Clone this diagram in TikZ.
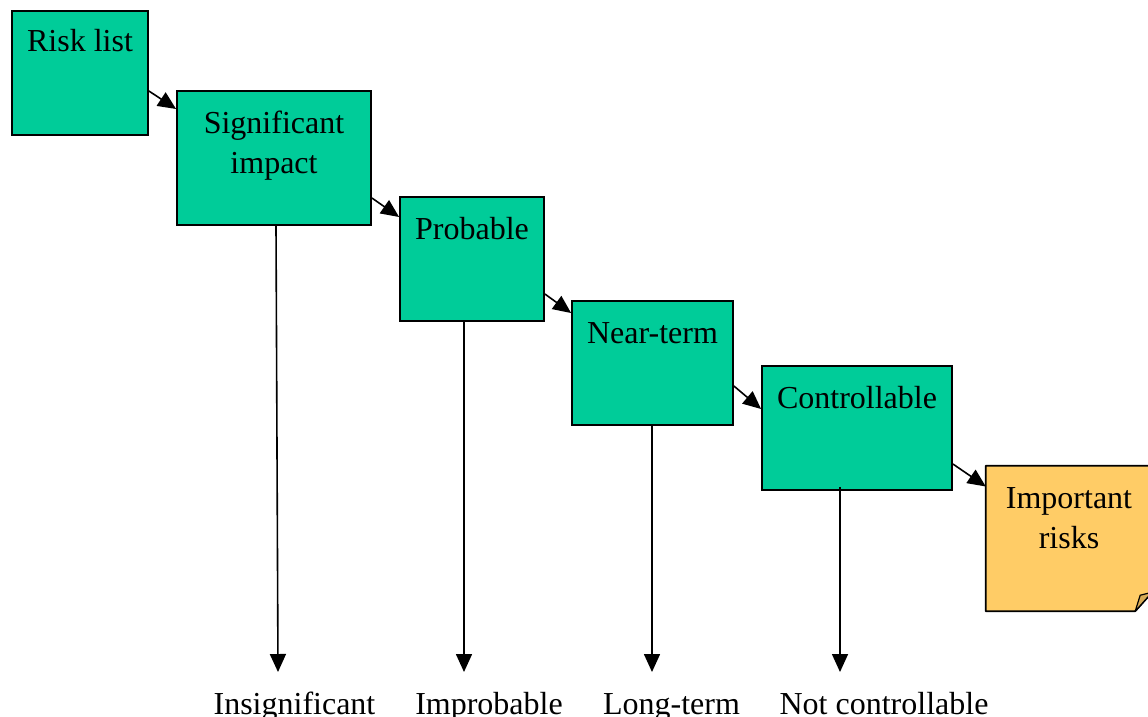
\documentclass[tikz,border=0pt]{standalone}
\usepackage{fontspec}
\setmainfont{Liberation Serif}
\usetikzlibrary{arrows.meta}
\definecolor{boxgreen}{RGB}{0,204,153}
\definecolor{noteorange}{RGB}{255,204,102}
\definecolor{foldorange}{RGB}{214,170,85}
\begin{document}
\begin{tikzpicture}[x=1pt,y=-1pt,
  font=\fontsize{32}{40}\selectfont,
  stagebox/.style={draw=black, line width=1.8pt, fill=boxgreen, inner sep=0pt},
  txt/.style={anchor=base, inner sep=0pt, align=center},
  flow/.style={line width=1.6pt, -{Triangle[length=18pt,width=16pt]}},
  drop/.style={line width=1.6pt, -{Triangle[length=18pt,width=16pt]}}]
\useasboundingbox (0,0) rectangle (1148,717);

% stage boxes
\node[stagebox, minimum width=136pt, minimum height=124pt] (risk) at (80,73) {};
\node[txt] (risktext) at (80,52) {Risk list};

\node[stagebox, minimum width=194pt, minimum height=134pt] (sig) at (274,158) {};
\node[txt] (sigtext) at (274,173) {Significant\\impact};

\node[stagebox, minimum width=144pt, minimum height=124pt] (prob) at (472,259) {};
\node[txt] (probtext) at (472,239) {Probable};

\node[stagebox, minimum width=161pt, minimum height=124pt] (near) at (652.5,363) {};
\node[txt] (neartext) at (652.5,343) {Near-term};

\node[stagebox, minimum width=190pt, minimum height=124pt] (ctrl) at (857,428) {};
\node[txt] (ctrltext) at (857,408) {Controllable};

% note with folded corner
\node[minimum width=166pt, minimum height=145pt, inner sep=0pt] (imp) at (1069,538.5) {};
\filldraw[fill=noteorange, draw=black, line width=1.8pt, line join=round]
  (imp.north west) -- (imp.north east) -- ([yshift=19pt]imp.south east)
  -- ([xshift=-17pt]imp.south east) -- (imp.south west) -- cycle;
\filldraw[fill=foldorange, draw=black, line width=1.2pt, line join=round]
  ([xshift=-17pt]imp.south east) -- ([xshift=-12pt,yshift=16pt]imp.south east)
  -- ([yshift=19pt]imp.south east) -- cycle;
\node[txt] (imptext) at (1069,548) {Important\\risks};

% flow arrows
\draw[flow] ([yshift=-18pt]risk.east) -- ([yshift=49pt]sig.west);
\draw[flow] ([yshift=-40pt]sig.east) -- ([yshift=42pt]prob.west);
\draw[flow] ([yshift=-35pt]prob.east) -- ([yshift=50pt]near.west);
\draw[flow] ([yshift=-23pt]near.east) -- ([yshift=19pt]ctrl.west);
\draw[flow] ([yshift=-36pt]ctrl.east) -- ([yshift=52pt]imp.west);

% rejection arrows
\coordinate (e1) at (278,672);
\coordinate (e2) at (464,672);
\coordinate (e3) at (652,672);
\coordinate (e4) at (840,672);
\draw[drop] ([xshift=2pt]sig.south) -- (e1);
\draw[drop] ([xshift=-8pt]prob.south) -- (e2);
\draw[drop] ([xshift=-0.5pt]near.south) -- (e3);
\draw[drop] ([xshift=-17pt,yshift=4pt]ctrl.south) -- (e4);

\node[txt] (l1) at (294.5,714) {Insignificant};
\node[txt] (l2) at (489,714) {Improbable};
\node[txt] (l3) at (671.5,714) {Long-term};
\node[txt] (l4) at (884,714) {Not controllable};
\end{tikzpicture}
\end{document}
